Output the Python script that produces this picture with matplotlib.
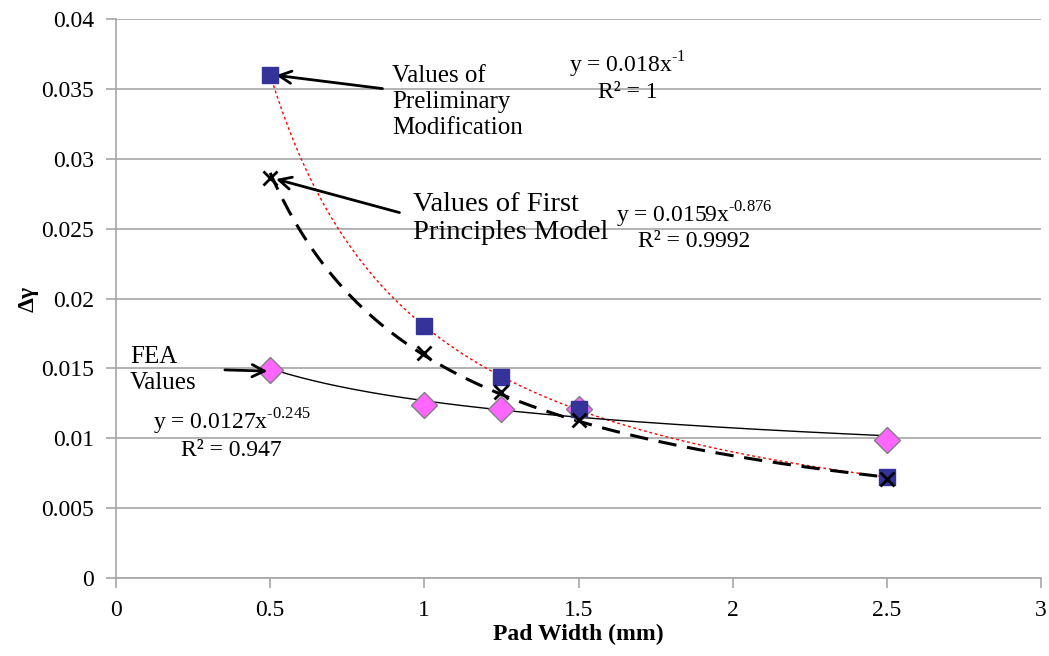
import numpy as np
import matplotlib
matplotlib.use('Agg')
import matplotlib.pyplot as plt

plt.rcParams['font.family'] = ['Liberation Serif', 'DejaVu Serif']

# Pad width (mm)
pad_width = [0.5, 1.0, 1.25, 1.5, 2.5]

# Delta gamma values
prelim = [0.0360, 0.0180, 0.0144, 0.0121, 0.0072]
first_principles = [0.0286, 0.0161, 0.0133, 0.0113, 0.0071]
fea = [0.0149, 0.0124, 0.0121, 0.0121, 0.0099]

x_ticks = [0, 0.5, 1, 1.5, 2, 2.5, 3]
y_ticks = [0, 0.005, 0.01, 0.015, 0.02, 0.025, 0.03, 0.035, 0.04]


def power_fit(x, y):
    # power trendline like Excel: fit in log-log space
    b, a = np.polyfit(np.log(x), np.log(y), 1)
    xs = np.linspace(min(x), max(x), 200)
    return xs, np.exp(a) * xs ** b


fig = plt.figure(figsize=(10.49, 6.56), dpi=100)
ax = fig.add_axes([0.1106, 0.1189, 0.8818, 0.852])

grid_col = '#a6a6a6'
ax.set_xlim(0, 3)
ax.set_ylim(0, 0.04)
ax.set_xticks(x_ticks)
ax.set_xticklabels(['0', '0.5', '1', '1.5', '2', '2.5', '3'])
ax.set_yticks(y_ticks)
ax.set_yticklabels(['0', '0.005', '0.01', '0.015', '0.02', '0.025', '0.03', '0.035', '0.04'])
ax.yaxis.grid(True, color=grid_col, lw=1.2)
ax.set_axisbelow(True)
for s in ['top', 'right']:
    ax.spines[s].set_visible(False)
for s in ['left', 'bottom']:
    ax.spines[s].set_color(grid_col)
    ax.spines[s].set_linewidth(1.2)
ax.tick_params(direction='out', length=7, color=grid_col, width=1.2,
               labelsize=17, pad=9)

# trendlines
xs, ys = power_fit(pad_width, prelim)
ax.plot(xs, ys, color='#ff0000', lw=1.0, ls=(0, (2, 2)), zorder=2)
xs, ys = power_fit(pad_width, first_principles)
ax.plot(xs, ys, color='black', lw=2.2, ls=(0, (6, 3.5)), zorder=2)
xs, ys = power_fit(pad_width, fea)
ax.plot(xs, ys, color='black', lw=1.0, zorder=2)

# markers
ax.plot(pad_width, fea, ls='none', marker='D', ms=13, mfc='#ff66ff',
        mec='#7f7f7f', mew=1, zorder=3)
ax.plot(pad_width, prelim, ls='none', marker='s', ms=12, mfc='#333399',
        mec='#333399', mew=1, zorder=4)
ax.plot(pad_width, first_principles, ls='none', marker='x', ms=10,
        mec='black', mew=2, zorder=5)

arrow = dict(arrowstyle='->', color='black', lw=2, mutation_scale=22)

ax.text(0.895, 0.0367, 'Values of\nPreliminary\nModification', fontsize=18,
        ha='left', va='top', linespacing=1.22)
ax.annotate('', xy=(0.51, prelim[0]), xytext=(0.873, 0.0350), arrowprops=arrow)

ax.text(0.963, 0.0276, 'Values of First\nPrinciples Model', fontsize=20.5,
        ha='left', va='top', linespacing=1.12)
ax.annotate('', xy=(0.51, first_principles[0]), xytext=(0.928, 0.0261),
            arrowprops=arrow)

ax.text(0.045, 0.0166, 'FEA\nValues', fontsize=18, ha='left', va='top',
        linespacing=1.25)
ax.annotate('', xy=(0.5, fea[0] - 0.0001), xytext=(0.344, 0.0149),
            arrowprops=arrow)

ax.text(1.66, 0.0359, 'y = 0.018x$^{\\mathregular{\u20101}}$\nR² = 1', fontsize=17,
        ha='center', va='center', linespacing=1.1)
ax.text(1.875, 0.0252, 'y = 0.0159x$^{\\mathregular{\u20100.876}}$\nR² = 0.9992', fontsize=17,
        ha='center', va='center', linespacing=1.1)
ax.text(0.12, 0.0112, 'y = 0.0127x$^{\\mathregular{\u20100.245}}$', fontsize=17,
        ha='left', va='center')
ax.text(0.211, 0.0091, 'R² = 0.947', fontsize=17, ha='left', va='center')

ax.set_xlabel('Pad Width (mm)', fontsize=17, fontweight='bold', labelpad=2)
ax.set_ylabel('Δγ', fontsize=17, fontweight='bold', labelpad=2)

fig.savefig('out.png', dpi=100)
